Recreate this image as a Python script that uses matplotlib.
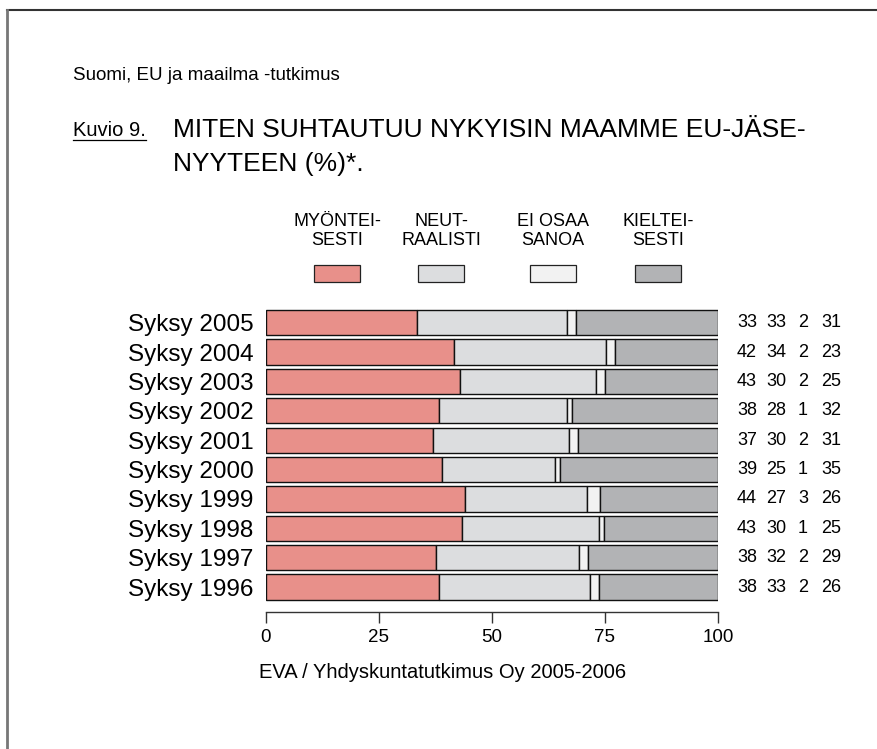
import matplotlib
matplotlib.use("Agg")
import matplotlib.pyplot as plt
import matplotlib.transforms as mtrans
import numpy as np
from matplotlib.lines import Line2D
from matplotlib.patches import Rectangle

years = ["Syksy 2005", "Syksy 2004", "Syksy 2003", "Syksy 2002", "Syksy 2001",
         "Syksy 2000", "Syksy 1999", "Syksy 1998", "Syksy 1997", "Syksy 1996"]
myonteisesti = [33, 42, 43, 38, 37, 39, 44, 43, 38, 38]
neutraalisti = [33, 34, 30, 28, 30, 25, 27, 30, 32, 33]
ei_osaa = [2, 2, 2, 1, 2, 1, 3, 1, 2, 2]
kielteisesti = [31, 23, 25, 32, 31, 35, 26, 25, 29, 26]
series_labels = ["MYÖNTEI-\nSESTI", "NEUT-\nRAALISTI", "EI OSAA\nSANOA", "KIELTEI-\nSESTI"]
colors = ["#E8908A", "#DCDDDF", "#F2F2F2", "#B2B3B5"]
xticks = [0, 25, 50, 75, 100]

W, H = 878, 749
fig = plt.figure(figsize=(W / 100, H / 100), dpi=100)
fig.patch.set_facecolor("white")

SANS = ["Liberation Sans", "DejaVu Sans"]

def fx(px):
    return px / W

def fy(py):
    return 1 - py / H

# frame lines
fig.add_artist(Line2D([fx(7), fx(878)], [fy(10), fy(10)], color="#333333", lw=1.5))
fig.add_artist(Line2D([fx(7), fx(7)], [fy(10), fy(749)], color="#777777", lw=2.0))

fig.text(fx(73), fy(75), "Suomi, EU ja maailma -tutkimus", family=SANS, fontsize=13.5,
         va="center", ha="left")
kuvio = fig.text(fx(73), fy(136), "Kuvio 9.", family=SANS, fontsize=14.5,
                 va="baseline", ha="left")
fig.text(fx(173), fy(137), "MITEN SUHTAUTUU NYKYISIN MAAMME EU-JÄSE-", family=SANS,
         fontsize=19, va="baseline", ha="left")
fig.text(fx(173), fy(171), "NYYTEEN (%)*.", family=SANS, fontsize=19, va="baseline", ha="left")

fig.canvas.draw()
bb = kuvio.get_window_extent().transformed(fig.transFigure.inverted())
fig.add_artist(Line2D([bb.x0, bb.x1], [fy(140), fy(140)], color="black", lw=0.9))

# legend
leg_x = [337, 441, 553, 658]
for cx, lab, c in zip(leg_x, series_labels, colors):
    fig.text(fx(cx), fy(231), lab, family=SANS, fontsize=13, ha="center", va="center",
             linespacing=1.15)
    fig.add_artist(Rectangle((fx(cx - 23), fy(282)), fx(46), 17 / H, facecolor=c,
                             edgecolor="#222222", lw=0.9, transform=fig.transFigure))

# axes
ax_top, ax_bot = 305, 612
ax = fig.add_axes([fx(266), fy(ax_bot), fx(718 - 266), (ax_bot - ax_top) / H])
data = np.array([myonteisesti, neutraalisti, ei_osaa, kielteisesti], dtype=float)
shares = data / data.sum(axis=0) * 100
ypos = np.arange(len(years))[::-1]
left = np.zeros(len(years))
for vals, c in zip(shares, colors):
    ax.barh(ypos, vals, left=left, height=0.86, color=c, edgecolor="#111111", lw=1.0)
    left += vals

ax.set_xlim(0, 100)
ax.set_ylim(-0.85, 9.6)
for s in ["top", "right", "left"]:
    ax.spines[s].set_visible(False)
ax.spines["bottom"].set_color("#333333")
ax.spines["bottom"].set_linewidth(1.0)
ax.set_xticks(xticks)
ax.set_xticklabels([str(t) for t in xticks], family=SANS, fontsize=13.5)
ax.tick_params(axis="x", length=8, width=1.0, color="#333333", pad=4)
ax.set_yticks(ypos)
ax.set_yticklabels(years, family=SANS, fontsize=17.5)
ax.tick_params(axis="y", length=0, pad=9)
ax.set_facecolor("none")

# value columns
col_x = [747, 776, 803, 831]
blend = mtrans.blended_transform_factory(fig.transFigure, ax.transData)
for i, y in enumerate(ypos):
    for j, cx in enumerate(col_x):
        ax.text(fx(cx), y, str(int(data[j, i])), family=SANS, fontsize=13,
                ha="center", va="center", transform=blend)

fig.text(fx(443), fy(673), "EVA / Yhdyskuntatutkimus Oy 2005-2006", family=SANS,
         fontsize=14.5, ha="center", va="center")

fig.savefig("out.png", dpi=100)
